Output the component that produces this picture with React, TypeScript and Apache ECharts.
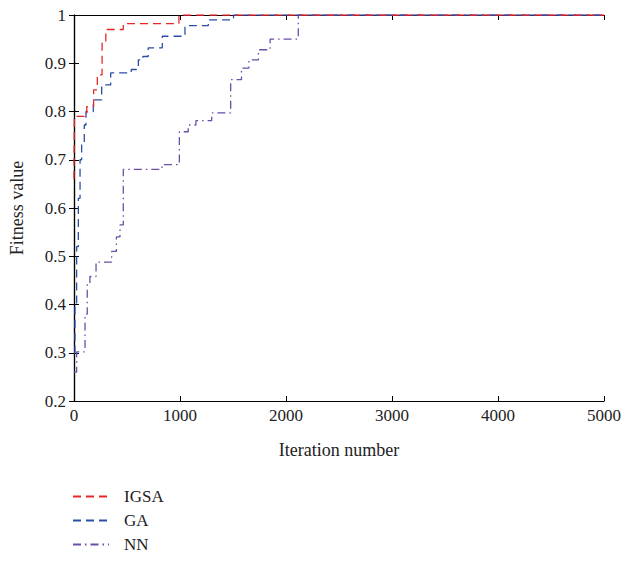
import React, { useEffect, useRef } from "react";
import * as echarts from "echarts";

const xTicks = [0, 1000, 2000, 3000, 4000, 5000];
const yTicks = [0.2, 0.3, 0.4, 0.5, 0.6, 0.7, 0.8, 0.9, 1];

const igsaX = [0, 3, 120, 185, 220, 265, 300, 465, 990, 5000];
const igsaY = [0.66, 0.79, 0.81, 0.845, 0.876, 0.942, 0.97, 0.982, 1, 1];

const gaX = [0, 9, 25, 41, 57, 72, 97, 113, 182, 261, 346, 540, 607, 650, 700, 833, 1047, 1267, 1505, 5000];
const gaY = [0.3, 0.4, 0.52, 0.62, 0.7, 0.735, 0.772, 0.8, 0.824, 0.855, 0.88, 0.887, 0.907, 0.914, 0.932, 0.956, 0.978, 0.99, 1, 1];

const nnX = [0, 25, 104, 125, 150, 208, 355, 400, 434, 465, 830, 994, 1078, 1150, 1299, 1478, 1580, 1650, 1740, 1850, 2116, 5000];
const nnY = [0.26, 0.302, 0.38, 0.444, 0.458, 0.488, 0.51, 0.54, 0.565, 0.68, 0.69, 0.758, 0.772, 0.781, 0.797, 0.866, 0.89, 0.907, 0.928, 0.95, 1, 1];

const seriesNames = ["IGSA", "GA", "NN"];

const zip = (xs: number[], ys: number[]) => xs.map((x, i) => [x, ys[i]]);

const FONT = "Liberation Serif";

export default function App() {
  const ref = useRef<HTMLDivElement>(null);
  useEffect(() => {
    if (!ref.current) return;
    const chart = echarts.init(ref.current, null, { renderer: "svg" });
    const axisLine = { show: true, lineStyle: { color: "#000", width: 1.2 } };
    const axisTick = { show: true, inside: true, length: 5, lineStyle: { color: "#000", width: 1 } };
    chart.setOption({
      animation: false,
      backgroundColor: "#fff",
      textStyle: { fontFamily: FONT },
      grid: { left: 74, right: 20, top: 15, bottom: 164, containLabel: false, outerBoundsMode: "none" },
      legend: {
        orient: "vertical",
        left: 72,
        top: 488,
        padding: 0,
        height: 80,
        itemWidth: 36,
        itemHeight: 14,
        itemGap: 7,
        itemStyle: { opacity: 0 },
        textStyle: { fontFamily: FONT, fontSize: 17, color: "#222", padding: [0, 0, 0, 10] },
        data: seriesNames,
      },
      xAxis: [
        {
          type: "value",
          min: xTicks[0],
          max: xTicks[xTicks.length - 1],
          interval: 1000,
          name: "Iteration number",
          nameLocation: "middle",
          nameGap: 40,
          nameTextStyle: { fontFamily: FONT, fontSize: 18, color: "#222" },
          axisLine,
          axisTick,
          splitLine: { show: false },
          axisLabel: { fontFamily: FONT, fontSize: 17, color: "#222", margin: 6, formatter: (v: number) => String(v) },
        },
        {
          type: "value",
          position: "top",
          min: xTicks[0],
          max: xTicks[xTicks.length - 1],
          interval: 1000,
          axisLine,
          axisTick,
          splitLine: { show: false },
          axisLabel: { show: false },
        },
      ],
      yAxis: [
        {
          type: "value",
          min: yTicks[0],
          max: yTicks[yTicks.length - 1],
          interval: 0.1,
          name: "Fitness value",
          nameLocation: "middle",
          nameGap: 48,
          nameTextStyle: { fontFamily: FONT, fontSize: 18, color: "#222" },
          axisLine,
          axisTick,
          splitLine: { show: false },
          axisLabel: {
            fontFamily: FONT,
            fontSize: 17,
            color: "#222",
            margin: 8,
            formatter: (v: number) => String(Math.round(v * 10) / 10),
          },
        },
        {
          type: "value",
          position: "right",
          min: yTicks[0],
          max: yTicks[yTicks.length - 1],
          interval: 0.1,
          axisLine,
          axisTick,
          splitLine: { show: false },
          axisLabel: { show: false },
        },
      ],
      series: [
        {
          name: "IGSA",
          type: "line",
          step: "end",
          showSymbol: false,
          symbol: "none",
          data: zip(igsaX, igsaY),
          itemStyle: { color: "#e8262a" },
          lineStyle: { color: "#e8262a", width: 1.3, type: [8, 5] },
          z: 4,
        },
        {
          name: "GA",
          type: "line",
          step: "end",
          showSymbol: false,
          symbol: "none",
          data: zip(gaX, gaY),
          itemStyle: { color: "#2b4ea6" },
          lineStyle: { color: "#2b4ea6", width: 1.3, type: [8, 5] },
          z: 3,
        },
        {
          name: "NN",
          type: "line",
          step: "end",
          showSymbol: false,
          symbol: "none",
          data: zip(nnX, nnY),
          itemStyle: { color: "#6b4ea8" },
          lineStyle: { color: "#6b4ea8", width: 1.3, type: [8, 4, 1.5, 4] },
          z: 2,
        },
      ],
    });
    return () => chart.dispose();
  }, []);
  return <div ref={ref} style={{ width: 624, height: 565, position: "absolute", left: 0, top: 0 }} />;
}
